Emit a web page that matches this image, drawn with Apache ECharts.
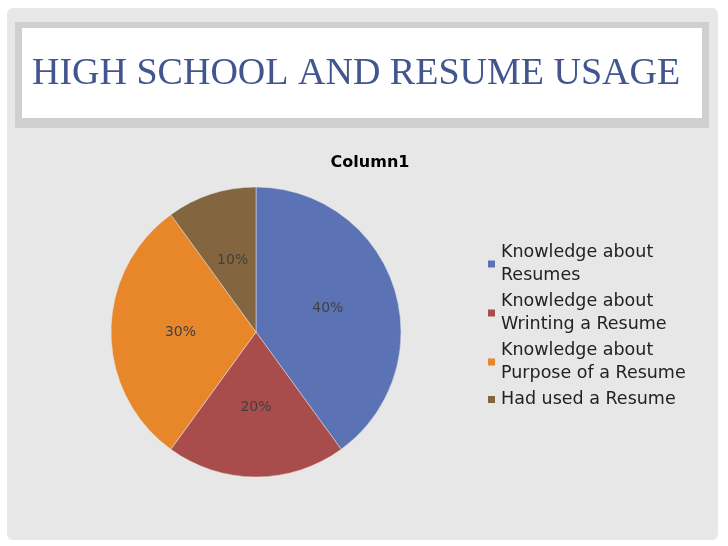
<!DOCTYPE html>
<html><head><meta charset="utf-8">
<script src="https://cdn.jsdelivr.net/npm/echarts@6/dist/echarts.min.js"></script>
<style>html,body{margin:0;padding:0;background:#fff}#c{width:728px;height:546px}</style>
</head><body><div id="c"></div>
<script>
const categories = ['Knowledge about\nResumes','Knowledge about\nWrinting a Resume','Knowledge about\nPurpose of a Resume','Had used a Resume'];
const values = [40, 20, 30, 10];
const colors = ['#5b73b5','#a94d4c','#e8862a','#83663f'];
const chart = echarts.init(document.getElementById('c'));
chart.setOption({
  backgroundColor:'#fff',
  animation:false,
  color: colors,
  graphic:[
    {type:'rect',z:-10,shape:{x:7,y:8,width:711,height:532,r:6},style:{fill:'#e7e7e7'}},
    {type:'rect',z:-9,shape:{x:15,y:22,width:694,height:106},style:{fill:'#cfcfcf'}},
    {type:'rect',z:-8,shape:{x:22,y:28,width:680,height:90},style:{fill:'#fff'}},
    {type:'text',left:32,top:55,style:{text:'HIGH SCHOOL AND RESUME USAGE',font:'38px "Liberation Serif"',fill:'#41568f'}}
  ],
  title:{text:'Column1',left:365,top:150,textAlign:'center',textStyle:{fontFamily:'DejaVu Sans',fontSize:16,fontWeight:'bold',color:'#000'}},
  legend:{orient:'vertical',left:481,top:236,itemWidth:9,itemHeight:9,itemGap:3,icon:'rect',
    textStyle:{fontFamily:'DejaVu Sans',fontSize:17.5,color:'#222',lineHeight:23}},
  series:[{type:'pie',center:[256,332],radius:[0,145],startAngle:90,clockwise:true,
    data: categories.map((n,i)=>({name:n,value:values[i]})),
    label:{position:'inside',formatter:'{c}%',fontFamily:'DejaVu Sans',fontSize:14,color:'#404040'},
    labelLine:{show:false},
    itemStyle:{borderColor:'#e7e7e7',borderWidth:0.5}
  }]
});
</script></body></html>
